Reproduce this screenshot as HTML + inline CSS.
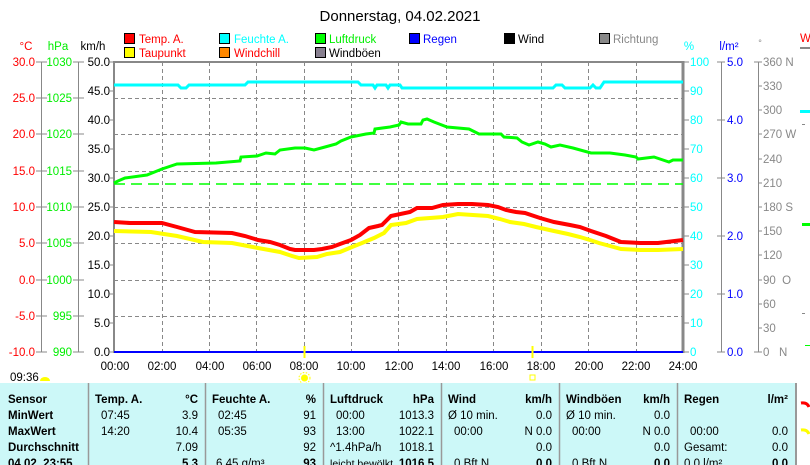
<!DOCTYPE html>
<html><head><meta charset="utf-8"><style>
html,body{margin:0;padding:0;background:#fff;width:810px;height:465px;overflow:hidden}
svg{display:block;font-family:"Liberation Sans",sans-serif}
</style></head><body>
<svg width="810" height="465" viewBox="0 0 810 465" xmlns="http://www.w3.org/2000/svg">
<text x="400" y="21" font-size="15" text-anchor="middle" fill="#000">Donnerstag, 04.02.2021</text>
<!-- legend -->
<g font-size="11.5" stroke-width="1">
<rect x="124.5" y="33.5" width="10" height="10" fill="#f00" stroke="#000"/><text x="139" y="43" fill="#f00">Temp. A.</text>
<rect x="219.5" y="33.5" width="10" height="10" fill="#0ff" stroke="#000"/><text x="234" y="43" fill="#0ff">Feuchte A.</text>
<rect x="315.5" y="33.5" width="10" height="10" fill="#0f0" stroke="#000"/><text x="329" y="43" fill="#0e0">Luftdruck</text>
<rect x="409.5" y="33.5" width="10" height="10" fill="#00f" stroke="#000"/><text x="423" y="43" fill="#00f">Regen</text>
<rect x="504.5" y="33.5" width="10" height="10" fill="#000" stroke="#000"/><text x="518" y="43" fill="#000">Wind</text>
<rect x="599.5" y="33.5" width="10" height="10" fill="#888" stroke="#000"/><text x="613" y="43" fill="#888">Richtung</text>
<rect x="124.5" y="47.5" width="10" height="10" fill="#ff0" stroke="#000"/><text x="139" y="57" fill="#f00">Taupunkt</text>
<rect x="219.5" y="47.5" width="10" height="10" fill="#f80" stroke="#000"/><text x="234" y="57" fill="#f00">Windchill</text>
<rect x="315.5" y="47.5" width="10" height="10" fill="#888090" stroke="#000"/><text x="329" y="57" fill="#000">Windböen</text>
</g>
<!-- axis headers -->
<g font-size="11.5">
<text x="26" y="50" fill="#f00" text-anchor="middle">°C</text>
<text x="58" y="50" fill="#0e0" text-anchor="middle">hPa</text>
<text x="93" y="50" fill="#000" text-anchor="middle">km/h</text>
<text x="689" y="50" fill="#0ff" text-anchor="middle">%</text>
<text x="729" y="50" fill="#00f" text-anchor="middle">l/m²</text>
<text x="760" y="46" fill="#888" text-anchor="middle" font-size="9">°</text>
<text x="800" y="42" fill="#f00" font-size="11.5">W</text>
<line x1="800" y1="48" x2="810" y2="48" stroke="#888" stroke-width="2"/>
</g>
<!-- grid -->
<g stroke="#888" stroke-width="1" stroke-dasharray="4,3">
<line x1="114" y1="98.5" x2="683" y2="98.5"/><line x1="114" y1="134.5" x2="683" y2="134.5"/>
<line x1="114" y1="171.5" x2="683" y2="171.5"/><line x1="114" y1="207.5" x2="683" y2="207.5"/>
<line x1="114" y1="243.5" x2="683" y2="243.5"/><line x1="114" y1="280.5" x2="683" y2="280.5"/>
<line x1="114" y1="316.5" x2="683" y2="316.5"/>
<line x1="162.5" y1="62" x2="162.5" y2="352"/><line x1="209.5" y1="62" x2="209.5" y2="352"/>
<line x1="256.5" y1="62" x2="256.5" y2="352"/><line x1="304.5" y1="62" x2="304.5" y2="352"/>
<line x1="351.5" y1="62" x2="351.5" y2="352"/><line x1="398.5" y1="62" x2="398.5" y2="352"/>
<line x1="446.5" y1="62" x2="446.5" y2="352"/><line x1="493.5" y1="62" x2="493.5" y2="352"/>
<line x1="541.5" y1="62" x2="541.5" y2="352"/><line x1="588.5" y1="62" x2="588.5" y2="352"/>
<line x1="636.5" y1="62" x2="636.5" y2="352"/>
</g>
<!-- plot frame -->
<line x1="114" y1="62" x2="683" y2="62" stroke="#888" stroke-width="2"/>
<line x1="114" y1="61" x2="114" y2="353" stroke="#888" stroke-width="2"/>
<line x1="683" y1="61" x2="683" y2="353" stroke="#888" stroke-width="3"/>
<line x1="114" y1="352" x2="683" y2="352" stroke="#00f" stroke-width="2"/>
<!-- left axes -->
<g stroke="#888" stroke-width="1">
<line x1="41.5" y1="62" x2="41.5" y2="352"/><line x1="78.5" y1="62" x2="78.5" y2="352"/>
<line x1="721.5" y1="62" x2="721.5" y2="352"/><line x1="758.5" y1="62" x2="758.5" y2="352"/>
</g>
<g font-size="11.5" fill="#f00" text-anchor="end">
<text x="35" y="66">30.0</text><text x="35" y="102">25.0</text><text x="35" y="138">20.0</text><text x="35" y="175">15.0</text><text x="35" y="211">10.0</text><text x="35" y="247">5.0</text><text x="35" y="284">0.0</text><text x="35" y="320">-5.0</text><text x="35" y="356">-10.0</text>
</g>
<g font-size="11.5" fill="#0e0" text-anchor="end">
<text x="72" y="66">1030</text><text x="72" y="102">1025</text><text x="72" y="138">1020</text><text x="72" y="175">1015</text><text x="72" y="211">1010</text><text x="72" y="247">1005</text><text x="72" y="284">1000</text><text x="72" y="320">995</text><text x="72" y="356">990</text>
</g>
<g stroke="#888">
<path d="M36 62h11M36 98h11M36 134h11M36 171h11M36 207h11M36 243h11M36 280h11M36 316h11M36 352h11"/>
<path d="M73 62h11M73 98h11M73 134h11M73 171h11M73 207h11M73 243h11M73 280h11M73 316h11M73 352h11"/>
<path d="M110 62h4M110 91h4M110 120h4M110 149h4M110 178h4M110 207h4M110 236h4M110 265h4M110 294h4M110 323h4M110 352h4"/>
</g>
<g font-size="11.5" fill="#000" text-anchor="end">
<text x="110" y="66">50.0</text><text x="110" y="95">45.0</text><text x="110" y="124">40.0</text><text x="110" y="153">35.0</text><text x="110" y="182">30.0</text><text x="110" y="211">25.0</text><text x="110" y="240">20.0</text><text x="110" y="269">15.0</text><text x="110" y="298">10.0</text><text x="110" y="327">5.0</text><text x="110" y="356">0.0</text>
</g>
<!-- right axes -->
<g stroke="#888"><path d="M683 62h6M683 91h6M683 120h6M683 149h6M683 178h6M683 207h6M683 236h6M683 265h6M683 294h6M683 323h6M683 352h6"/>
<path d="M717 62h8M717 120h8M717 178h8M717 236h8M717 294h8M717 352h8"/>
<path d="M754 62h8M758 86h4M758 110h4M758 134h4M758 159h4M758 183h4M758 207h4M758 231h4M758 255h4M758 280h4M758 304h4M758 328h4M754 352h8"/></g>
<g font-size="11.5" fill="#0ff">
<text x="690" y="66">100</text><text x="690" y="95">90</text><text x="690" y="124">80</text><text x="690" y="153">70</text><text x="690" y="182">60</text><text x="690" y="211">50</text><text x="690" y="240">40</text><text x="690" y="269">30</text><text x="690" y="298">20</text><text x="690" y="327">10</text><text x="690" y="356">0</text>
</g>
<g font-size="11.5" fill="#00f">
<text x="727" y="66">5.0</text><text x="727" y="124">4.0</text><text x="727" y="182">3.0</text><text x="727" y="240">2.0</text><text x="727" y="298">1.0</text><text x="727" y="356">0.0</text>
</g>
<g font-size="11.5" fill="#888">
<text x="763" y="66">360 N</text><text x="763" y="90">330</text><text x="763" y="114">300</text><text x="763" y="138">270 W</text><text x="763" y="163">240</text><text x="763" y="187">210</text><text x="763" y="211">180 S</text><text x="763" y="235">150</text><text x="763" y="259">120</text><text x="763" y="284">90&#160;&#160;O</text><text x="763" y="308">60</text><text x="763" y="332">30</text><text x="763" y="356">0&#160;&#160;&#160;N</text>
</g>
<g><rect x="800" y="110" width="10" height="3" fill="#0ff"/><rect x="802" y="124" width="3" height="1" fill="#888"/><rect x="802" y="223" width="8" height="3" fill="#0f0"/><rect x="802" y="313" width="3" height="1" fill="#888"/><rect x="805" y="345" width="5" height="1" fill="#0f0"/></g>
<!-- x labels -->
<g font-size="11.5" fill="#000" text-anchor="middle">
<text x="115" y="370">00:00</text><text x="162" y="370">02:00</text><text x="210" y="370">04:00</text><text x="257" y="370">06:00</text><text x="304" y="370">08:00</text><text x="351" y="370">10:00</text><text x="399" y="370">12:00</text><text x="446" y="370">14:00</text><text x="494" y="370">16:00</text><text x="541" y="370">18:00</text><text x="589" y="370">20:00</text><text x="636" y="370">22:00</text><text x="683" y="370">24:00</text>
</g>
<line x1="304.5" y1="346" x2="304.5" y2="358" stroke="#ff0" stroke-width="2"/>
<line x1="532.5" y1="346" x2="532.5" y2="358" stroke="#ff0" stroke-width="2"/>
<circle cx="304.5" cy="378" r="3.5" fill="#ff0"/><circle cx="304.5" cy="378" r="5.5" fill="none" stroke="#ff0" stroke-dasharray="1.5,1.5"/>
<rect x="530" y="375" width="5" height="5" fill="none" stroke="#ff0"/>
<text x="10" y="381" font-size="11.5" fill="#000">09:36</text>
<path d="M40 381 a5 4 0 0 1 10 0z" fill="#ff0"/>
<!-- series -->
<line x1="114" y1="184" x2="683" y2="184" stroke="#0f0" stroke-width="1.5" stroke-dasharray="11,6"/>
<polyline fill="none" stroke="#0ff" stroke-width="3" points="114,85 178,85 181,88 186,88 189,85 245,85 248,82 358,82 361,85 373,85 375,88 377,85 386,85 388,88 390,85 400,85 402,88 553,88 556,85 562,85 565,88 590,88 593,85 596,88 600,88 604,82 683,82"/>
<polyline fill="none" stroke="#0f0" stroke-width="3" points="114,183 118,181 125,178 147,175 162,169 177,164 216,163 240,161 241,157 257,156 266,153 275,154 280,150 295,148 305,148 314,150 325,147 336,144 341,141 351,137 366,134 374,133 375,129 390,127 399,125 401,122 408,124 421,124 423,120 427,119 434,122 447,127 469,129 479,134 501,134 504,137 517,138 522,142 529,145 538,142 545,144 551,147 560,145 573,148 591,153 610,153 625,155 636,157 638,159 654,157 669,162 673,160 683,160"/>
<polyline fill="none" stroke="#ff0" stroke-width="4" points="114,231 151,232 177,236 203,242 232,243 258,248 280,252 292,256 299,258 317,257 327,254 340,252 352,247 362,243 374,238 384,233 391,225 406,223 417,219 430,218 443,217 458,214 473,215 488,216 500,219 510,222 524,224 536,227 554,231 568,234 580,237 590,240 599,243 610,246 621,249 640,250 658,250 683,249"/>
<polyline fill="none" stroke="#f00" stroke-width="4" points="114,222 130,223 162,223 177,227 195,232 232,233 245,236 258,240 270,242 280,245 290,249 295,250 314,250 322,249 332,247 340,244 351,240 360,235 369,228 378,226 382,225 391,216 410,212 417,208 432,208 443,205 458,204 472,204 488,205 498,207 506,210 516,212 525,213 540,218 554,222 570,225 580,227 591,231 606,236 621,242 640,243 658,243 683,240"/>
<!-- table -->
<rect x="0" y="383" width="796" height="82" fill="#ccf8f8"/>
<g stroke="#999" stroke-width="1.5">
<line x1="88.5" y1="383" x2="88.5" y2="465"/><line x1="205.5" y1="383" x2="205.5" y2="465"/><line x1="323.5" y1="383" x2="323.5" y2="465"/><line x1="441.5" y1="383" x2="441.5" y2="465"/><line x1="559.5" y1="383" x2="559.5" y2="465"/><line x1="677.5" y1="383" x2="677.5" y2="465"/><line x1="796" y1="383" x2="796" y2="465" stroke-width="2"/>
</g>
<path d="M801 403 q6 -1 8 4" stroke="#f00" stroke-width="3" fill="none"/>
<path d="M801 430 q6 -1 8 4" stroke="#ff0" stroke-width="3" fill="none"/>
<g font-size="11.5" fill="#000">
<g font-weight="bold"><text x="8" y="403">Sensor</text><text x="8" y="419">MinWert</text><text x="8" y="435">MaxWert</text><text x="8" y="451">Durchschnitt</text><text x="8" y="467">04.02. 23:55</text>
<text x="95" y="403">Temp. A.</text><text x="198" y="403" text-anchor="end">°C</text>
<text x="212" y="403">Feuchte A.</text><text x="316" y="403" text-anchor="end">%</text>
<text x="330" y="403">Luftdruck</text><text x="434" y="403" text-anchor="end">hPa</text>
<text x="448" y="403">Wind</text><text x="552" y="403" text-anchor="end">km/h</text>
<text x="566" y="403">Windböen</text><text x="670" y="403" text-anchor="end">km/h</text>
<text x="684" y="403">Regen</text><text x="788" y="403" text-anchor="end">l/m²</text>
<text x="198" y="467" text-anchor="end">5.3</text><text x="316" y="467" text-anchor="end">93</text><text x="434" y="467" text-anchor="end">1016.5</text><text x="552" y="467" text-anchor="end">0.0</text><text x="670" y="467" text-anchor="end">0.0</text><text x="788" y="467" text-anchor="end">0.0</text></g>
<text x="101" y="419">07:45</text><text x="198" y="419" text-anchor="end">3.9</text>
<text x="101" y="435">14:20</text><text x="198" y="435" text-anchor="end">10.4</text>
<text x="198" y="451" text-anchor="end">7.09</text>
<text x="218" y="419">02:45</text><text x="316" y="419" text-anchor="end">91</text>
<text x="218" y="435">05:35</text><text x="316" y="435" text-anchor="end">93</text>
<text x="316" y="451" text-anchor="end">92</text>
<text x="216" y="467">6.45 g/m³</text>
<text x="336" y="419">00:00</text><text x="434" y="419" text-anchor="end">1013.3</text>
<text x="336" y="435">13:00</text><text x="434" y="435" text-anchor="end">1022.1</text>
<text x="330" y="451">^1.4hPa/h</text><text x="434" y="451" text-anchor="end">1018.1</text>
<text x="330" y="467" font-size="10.5">leicht bewölkt</text>
<text x="448" y="419">Ø 10 min.</text><text x="552" y="419" text-anchor="end">0.0</text>
<text x="454" y="435">00:00</text><text x="552" y="435" text-anchor="end">N 0.0</text>
<text x="552" y="451" text-anchor="end">0.0</text><text x="454" y="467">0 Bft N</text>
<text x="566" y="419">Ø 10 min.</text><text x="670" y="419" text-anchor="end">0.0</text>
<text x="572" y="435">00:00</text><text x="670" y="435" text-anchor="end">N 0.0</text>
<text x="670" y="451" text-anchor="end">0.0</text><text x="572" y="467">0 Bft N</text>
<text x="690" y="435">00:00</text><text x="788" y="435" text-anchor="end">0.0</text>
<text x="684" y="451">Gesamt:</text><text x="788" y="451" text-anchor="end">0.0</text>
<text x="684" y="467">0.0 l/m²</text>
</g>
</svg>
</body></html>
